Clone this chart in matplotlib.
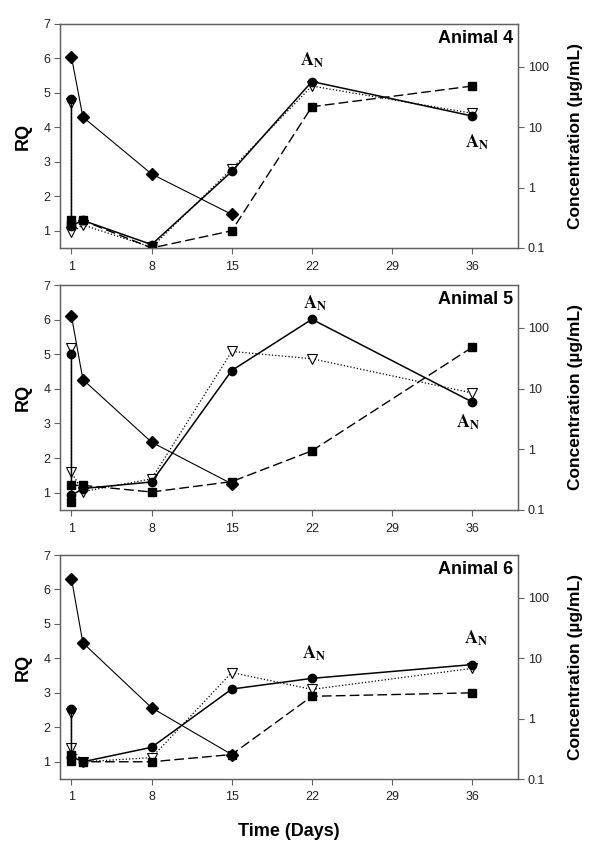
import matplotlib
matplotlib.use("Agg")
import matplotlib.pyplot as plt
from matplotlib.ticker import FixedLocator, FixedFormatter

plt.rcParams['font.family'] = ['Liberation Sans', 'DejaVu Sans']
plt.rcParams['mathtext.fontset'] = 'stix'

# ---- data ----
days = [1, 1, 2, 8, 15, 22, 36]
diamond_days = [1, 2, 8, 15]
x_ticks = [1, 8, 15, 22, 29, 36]
rq_ticks = [1, 2, 3, 4, 5, 6, 7]
conc_ticks = [0.1, 1, 10, 100]
conc_tick_labels = ["0.1", "1", "10", "100"]

titles = ["Animal 4", "Animal 5", "Animal 6"]

circle_4 = [4.82, 1.15, 1.30, 0.60, 2.72, 5.33, 4.33]
triangle_4 = [4.70, 0.95, 1.17, 0.52, 2.80, 5.20, 4.41]
square_4 = [1.17, 1.32, 1.30, 0.50, 1.00, 4.60, 5.20]
diamond_4 = [146, 14.7, 1.68, 0.36]

circle_5 = [5.01, 0.92, 1.12, 1.31, 4.53, 6.01, 3.62]
triangle_5 = [5.18, 1.59, 1.03, 1.40, 5.08, 4.87, 3.88]
square_5 = [0.73, 1.21, 1.21, 1.02, 1.32, 2.21, 5.20]
diamond_5 = [158, 14.1, 1.31, 0.27]

circle_6 = [2.52, 1.15, 1.00, 1.42, 3.11, 3.42, 3.82]
triangle_6 = [2.42, 1.39, 1.00, 1.12, 3.59, 3.10, 3.71]
square_6 = [1.02, 1.20, 1.00, 1.00, 1.21, 2.90, 3.00]
diamond_6 = [208, 17.9, 1.51, 0.254]

# A_N annotation points (day, RQ)
an_4 = [(22, 5.95), (36.4, 3.58)]
an_5 = [(22.3, 6.48), (35.6, 3.03)]
an_6 = [(22.2, 4.15), (36.3, 4.59)]

panels = [
    (circle_4, triangle_4, square_4, diamond_4, an_4),
    (circle_5, triangle_5, square_5, diamond_5, an_5),
    (circle_6, triangle_6, square_6, diamond_6, an_6),
]

fig = plt.figure(figsize=(6.0, 8.51), dpi=100)
W, H = 600.0, 851.0
left, right = 60, 518
tops = [24, 285, 555]
bottoms = [248, 510, 779]

spine_col = '#606060'
tick_col = '#222222'

for i, (circ, tri, sq, dia, an) in enumerate(panels):
    rect = [left / W, 1 - bottoms[i] / H, (right - left) / W, (bottoms[i] - tops[i]) / H]
    ax = fig.add_axes(rect)
    ax2 = ax.twinx()

    ax.plot(days, tri, linestyle=':', color='black', lw=0.9, marker='v', ms=7,
            mfc='white', mec='black', mew=0.8, zorder=3)
    ax.plot(days, sq, linestyle=(0, (7, 3)), color='black', lw=1.0, marker='s', ms=6,
            mfc='black', mec='black', zorder=3)
    ax.plot(days, circ, linestyle='-', color='black', lw=1.1, marker='o', ms=6,
            mfc='black', mec='black', zorder=4)
    ax2.plot(diamond_days, dia, linestyle='-', color='black', lw=0.8, marker='D', ms=6,
             mfc='black', mec='black')

    ax.set_xlim(0, 40)
    ax.set_ylim(0.5, 7)
    ax2.set_yscale('log')
    ax2.set_ylim(0.1, 510)

    ax.xaxis.set_major_locator(FixedLocator(x_ticks))
    ax.set_xticklabels([str(t) for t in x_ticks])
    ax.yaxis.set_major_locator(FixedLocator(rq_ticks))
    ax.set_yticklabels([str(t) for t in rq_ticks])
    ax2.yaxis.set_major_locator(FixedLocator(conc_ticks))
    ax2.yaxis.set_major_formatter(FixedFormatter(conc_tick_labels))
    ax2.yaxis.set_minor_locator(FixedLocator([]))

    for a in (ax, ax2):
        for s in a.spines.values():
            s.set_color(spine_col)
            s.set_linewidth(0.9)
        a.tick_params(direction='out', length=4, width=0.8, color=spine_col,
                      labelsize=9, labelcolor=tick_col, pad=3)
    ax.tick_params(axis='x', pad=5)

    ax.set_ylabel("RQ", fontsize=13, fontweight='bold', labelpad=8)
    ax2.set_ylabel("Concentration (µg/mL)", fontsize=12.5, fontweight='bold', labelpad=14)

    ax.text(0.99, 0.975, titles[i], transform=ax.transAxes, ha='right', va='top',
            fontsize=13, fontweight='bold')

    for (xa, ya) in an:
        ax.text(xa, ya, r"$\mathbf{A}_{\mathbf{N}}$", ha='center', va='center',
                fontsize=13, zorder=6)

    if i == 2:
        ax.set_xlabel("Time (Days)", fontsize=13, fontweight='bold', labelpad=14)

fig.savefig("out.png", dpi=100)
